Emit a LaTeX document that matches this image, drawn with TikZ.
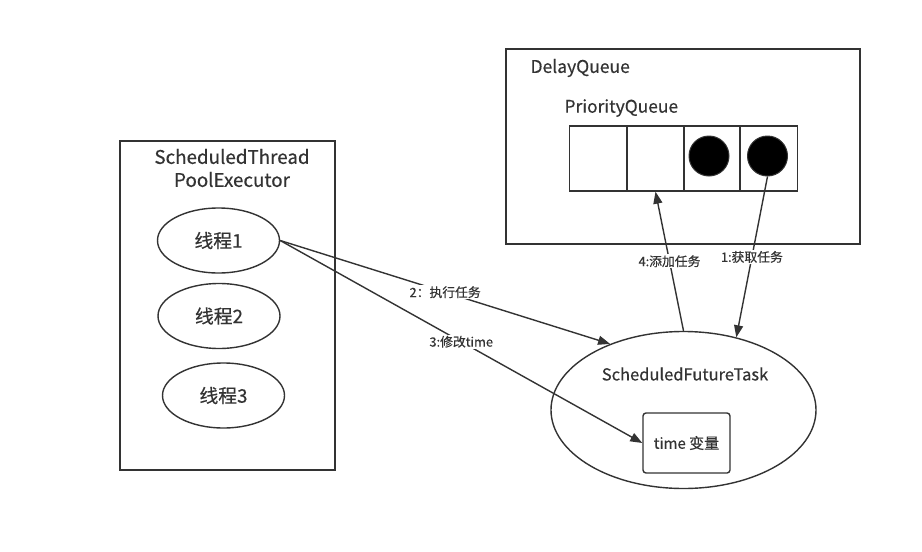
\documentclass[tikz,border=0pt]{standalone}
\usepackage{fontspec}
\setmainfont{Noto Sans CJK SC}[FakeBold=0.4]
\usetikzlibrary{arrows.meta, shapes.geometric}
\definecolor{ink}{HTML}{333333}
\begin{document}
\begin{tikzpicture}[x=1pt, y=-1pt]
		\tikzset{thread/.style={ellipse, draw=ink, line width=1.4pt, minimum width=122pt, minimum height=65pt, inner sep=0, text=ink, font=\fontsize{18.8}{21}\selectfont}}
		\tikzset{cell/.style={rectangle, draw=ink, line width=1.4pt, minimum width=57pt, minimum height=65pt, inner sep=0}}
		\tikzset{dot/.style={circle, fill=black, draw=ink, line width=1pt, minimum size=40pt, inner sep=0}}
		\tikzset{ar/.style={-{Triangle[length=12pt, width=9pt]}, draw=ink, line width=1.4pt}}
		\tikzset{lbl/.style={fill=white, inner sep=1pt, text=ink, font=\fontsize{12.8}{14}\selectfont}}
		\useasboundingbox[fill=white] (0,0) rectangle (922,552);
		\node[draw=ink, line width=1.4pt, minimum width=215pt, minimum height=329pt, inner sep=0] at (227.5, 305.5) (pool) {};
		\node[align=center, text=ink, font=\fontsize{18.8}{23}\selectfont] at (232, 168) (poolname) {ScheduledThread\\PoolExecutor};
		\node[thread] at (218.5, 240.5) (t1) {线程1};
		\node[thread] at (219, 316) (t2) {线程2};
		\node[thread] at (223.5, 395.5) (t3) {线程3};
		\node[draw=ink, line width=1.4pt, minimum width=354pt, minimum height=195pt, inner sep=0] at (683, 146.5) (delay) {};
		\node[anchor=west, text=ink, font=\fontsize{17.5}{19}\selectfont] at (527, 68) (delayname) {DelayQueue};
		\node[anchor=west, text=ink, font=\fontsize{17.4}{19}\selectfont] at (561, 108) (prioname) {PriorityQueue};
		\node[cell] at (598, 158.5) (c1) {};
		\node[cell] at (655.5, 158.5) (c2) {};
		\node[cell, minimum width=56pt] at (712, 158.5) (c3) {};
		\node[cell] at (769, 158.5) (c4) {};
		\node[dot] at (709, 156) (d1) {};
		\node[dot] at (767.5, 156) (d2) {};
		\node[ellipse, draw=ink, line width=1.4pt, minimum width=265pt, minimum height=157pt, inner sep=0] at (683.5, 410) (task) {};
		\node[text=ink, font=\fontsize{16.5}{18}\selectfont] at (685, 374) (taskname) {ScheduledFutureTask};
		\node[draw=ink, line width=1.4pt, rounded corners=3pt, minimum width=87pt, minimum height=60pt, inner sep=0, text=ink, font=\fontsize{15}{17}\selectfont] at (686.5, 443) (tv) {time 变量};
		\path (d2.south) edge[ar] node[lbl] {1:获取任务} (task.54);
		\path (t1.east) edge[ar] node[lbl] {2：执行任务} (task.138);
		\path (t1.east) edge[ar] node[lbl] {3:修改time} (tv.west);
		\path (task.north) edge[ar] node[lbl] {4:添加任务} (c2.south);
	\end{tikzpicture}
\end{document}
